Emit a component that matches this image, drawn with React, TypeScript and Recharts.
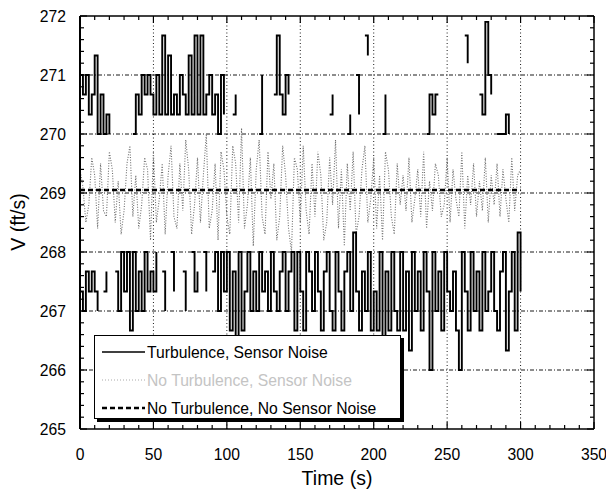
import { LineChart, Line, XAxis, YAxis, ReferenceLine } from 'recharts';

const n = null;

// sample times (s)
const time = [
  0, 2, 4, 6, 8, 10, 12, 14, 16, 18,
  20, 22, 24, 26, 28, 30, 32, 34, 36, 38,
  40, 42, 44, 46, 48, 50, 52, 54, 56, 58,
  60, 62, 64, 66, 68, 70, 72, 74, 76, 78,
  80, 82, 84, 86, 88, 90, 92, 94, 96, 98,
  100, 102, 104, 106, 108, 110, 112, 114, 116, 118,
  120, 122, 124, 126, 128, 130, 132, 134, 136, 138,
  140, 142, 144, 146, 148, 150, 152, 154, 156, 158,
  160, 162, 164, 166, 168, 170, 172, 174, 176, 178,
  180, 182, 184, 186, 188, 190, 192, 194, 196, 198,
  200, 202, 204, 206, 208, 210, 212, 214, 216, 218,
  220, 222, 224, 226, 228, 230, 232, 234, 236, 238,
  240, 242, 244, 246, 248, 250, 252, 254, 256, 258,
  260, 262, 264, 266, 268, 270, 272, 274, 276, 278,
  280, 282, 284, 286, 288, 290, 292, 294, 296, 298,
  300,
];

// turbulence + sensor noise, upper excursions (ft/s)
const turbNoiseHigh = [
  271.0, 270.67, 271.0, 270.33, 270.67, 271.33, 270.0, 270.67, 270.0, 270.33,
  270.0, n, n, n, n, n, n, n, 270.0, 270.67,
  270.33, 271.0, 270.67, 271.0, 270.67, 270.33, 271.0, 270.33, 271.67, 270.33,
  271.33, 270.33, 270.67, 270.33, 271.0, 270.67, 270.33, 271.33, 270.33, 271.67,
  270.33, 271.67, 270.33, 270.67, 271.0, 270.33, 270.67, 270.0, 271.0, 270.33,
  n, n, 270.33, 270.67, n, n, n, n, n, n,
  n, 270.0, 271.0, n, n, n, 270.67, 271.67, 270.67, 270.33,
  271.0, 270.67, n, n, n, n, n, n, n, n,
  n, n, n, n, n, 270.33, 270.67, n, n, n,
  n, 270.0, 270.33, n, 271.0, 270.33, n, 271.67, 271.33, n,
  n, n, n, 270.0, 270.67, n, n, n, n, n,
  n, n, n, n, n, n, n, n, 270.0, 270.67,
  270.33, 270.67, 270.67, n, n, n, n, n, n, n,
  n, 271.67, 271.2, n, n, n, 270.67, 270.33, 271.9, 271.0,
  270.67, n, 270.0, 270.0, 270.0, 270.33, 270.0, n, n, n,
  n,
];

// turbulence + sensor noise, lower excursions (ft/s)
const turbNoiseLow = [
  267.33, 267.0, 267.67, 267.33, 267.67, 267.33, 267.0, n, 267.33, 267.67,
  n, n, 267.67, 267.0, 268.0, 267.33, 268.0, 266.67, 268.0, 267.0,
  267.67, 267.0, 268.0, 267.33, 267.67, 267.33, 268.0, n, 267.67, 267.0,
  n, 268.0, 267.33, n, n, 267.67, 267.0, n, 268.0, 267.33,
  267.67, n, 268.0, 267.33, n, 267.67, 268.0, 267.0, 268.0, 267.33,
  268.0, 266.67, 267.67, 266.33, 268.0, 266.67, 267.33, 268.0, 267.0, 267.67,
  267.0, 268.0, 267.33, 267.67, 267.0, 268.0, 267.33, 267.0, 267.67, 268.0,
  267.0, 267.67, 268.0, 266.67, 268.0, 267.33, 266.67, 268.0, 267.67, 267.0,
  268.0, 267.33, 266.67, 267.67, 268.0, 267.0, 266.67, 268.0, 267.33, 266.67,
  267.67, 268.0, 267.0, 268.33, 267.33, 266.67, 267.67, 267.0, 268.0, 266.67,
  267.33, 266.67, 268.0, 266.33, 267.67, 266.67, 268.0, 267.0, 266.67, 268.0,
  266.67, 267.67, 266.33, 268.0, 267.0, 267.67, 266.67, 268.0, 267.33, 266.0,
  268.0, 267.0, 267.67, 266.67, 268.0, 267.33, 267.0, 267.67, 266.67, 266.0,
  268.0, 267.33, 266.67, 268.0, 267.0, 267.67, 266.67, 268.0, 267.0, 267.33,
  268.0, 267.0, 266.67, 267.67, 268.0, 266.33, 267.33, 268.0, 266.67, 268.33,
  267.33,
];

// no turbulence, sensor noise only (ft/s)
const noTurbNoise = [
  269.4, 269.1, 268.5, 268.8, 269.6, 269.3, 268.4, 269.5, 268.7, 268.6,
  269.7, 269.4, 268.5, 269.2, 268.3, 268.7, 269.5, 269.8, 268.6, 269.3,
  268.4, 268.8, 269.6, 269.4, 268.2, 269.7, 268.5, 268.9, 269.5, 268.3,
  269.3, 269.8, 268.6, 268.4, 269.5, 268.7, 269.9, 269.4, 268.3, 268.8,
  269.6, 268.5, 269.3, 270.0, 268.4, 268.7, 269.5, 268.2, 269.7, 269.4,
  268.6, 268.3, 269.8, 269.5, 268.5, 270.1, 268.4, 268.8, 269.6, 268.1,
  269.4, 269.9, 268.6, 268.3, 269.7, 268.9, 269.5, 268.2, 268.6, 269.8,
  269.3, 268.4, 268.0, 269.6, 269.4, 268.5, 269.8, 268.7, 268.3, 269.5,
  268.6, 269.7, 269.3, 268.2, 268.5, 269.6, 268.8, 269.9, 268.4, 269.4,
  268.1, 269.5, 268.7, 269.7, 268.3, 268.6, 269.4, 269.8, 268.5, 268.9,
  269.6, 268.4, 269.3, 268.2, 269.7, 269.4, 268.6, 268.3, 269.5, 268.8,
  269.3, 268.7, 269.6, 268.5, 268.9, 269.4, 268.6, 269.7, 268.4, 269.2,
  268.7, 269.5, 269.3, 268.6, 268.8, 269.6, 268.5, 269.4, 268.9, 268.6,
  269.7, 268.4, 269.3, 268.8, 269.5, 268.6, 269.2, 268.7, 269.6, 268.5,
  269.3, 268.8, 269.5, 268.6, 269.4, 268.9, 268.5, 269.6, 268.7, 269.3,
  269.4,
];

// no turbulence, no sensor noise
const cleanTime = [0, 300];
const cleanV = [269.05, 269.05];

const xTicks = [
  0, 10, 20, 30, 40, 50, 60, 70, 80, 90, 100, 110, 120, 130, 140, 150, 160, 170,
  180, 190, 200, 210, 220, 230, 240, 250, 260, 270, 280, 290, 300, 310, 320, 330, 340, 350,
];
const yTicks = [
  265, 265.2, 265.4, 265.6, 265.8, 266, 266.2, 266.4, 266.6, 266.8, 267, 267.2,
  267.4, 267.6, 267.8, 268, 268.2, 268.4, 268.6, 268.8, 269, 269.2, 269.4, 269.6,
  269.8, 270, 270.2, 270.4, 270.6, 270.8, 271, 271.2, 271.4, 271.6, 271.8, 272,
];
const xGrid = [50, 100, 150, 200, 250, 300];
const yGrid = [266, 267, 268, 269, 270, 271];

const data = time.map((t, i) => ({
  t,
  hi: turbNoiseHigh[i],
  lo: turbNoiseLow[i],
  sn: noTurbNoise[i],
}));
const cleanData = cleanTime.map((t, i) => ({ t, v: cleanV[i] }));

const PLOT_W = 514;
const PLOT_H = 413;
const FONT = '"Liberation Sans", Arial, sans-serif';

const XTick = (props: any) => {
  const { x, y, payload } = props;
  const major = payload.value % 50 === 0;
  const len = major ? 7 : 4;
  return (
    <g>
      <line x1={x} y1={y} x2={x} y2={y - len} stroke="#000" strokeWidth={1.2} />
      <line x1={x} y1={y - PLOT_H} x2={x} y2={y - PLOT_H + len} stroke="#000" strokeWidth={1.2} />
      {major && (
        <text x={x} y={y + 31} textAnchor="middle" fontSize={15.7} fontFamily={FONT} fill="#000">
          {payload.value}
        </text>
      )}
    </g>
  );
};

const YTick = (props: any) => {
  const { x, y, payload } = props;
  const major = Math.abs(payload.value - Math.round(payload.value)) < 1e-6;
  const len = major ? 7 : 4;
  return (
    <g>
      <line x1={x} y1={y} x2={x + len} y2={y} stroke="#000" strokeWidth={1.2} />
      <line x1={x + PLOT_W} y1={y} x2={x + PLOT_W - len} y2={y} stroke="#000" strokeWidth={1.2} />
      {major && (
        <text x={x - 14} y={y + 6} textAnchor="end" fontSize={15.7} fontFamily={FONT} fill="#000">
          {Math.round(payload.value)}
        </text>
      )}
    </g>
  );
};

export default function App() {
  return (
    <div style={{ position: 'absolute', left: 0, top: 0, width: 606, height: 492, background: '#fff' }}>
      <LineChart width={606} height={492} data={data} margin={{ top: 16, right: 12, bottom: 0, left: 0 }}>
        <XAxis
          dataKey="t"
          type="number"
          domain={[0, 350]}
          ticks={xTicks}
          interval={0}
          tickSize={0}
          tickMargin={0}
          tickLine={false}
          tick={XTick}
          height={63}
          axisLine={{ stroke: '#000', strokeWidth: 1.5 }}
          label={() => (
            <text x={337} y={485} textAnchor="middle" fontSize={19.5} fontFamily={FONT} fill="#000">
              Time (s)
            </text>
          )}
        />
        <YAxis
          type="number"
          domain={[265, 272]}
          ticks={yTicks}
          interval={0}
          tickSize={0}
          tickMargin={0}
          tickLine={false}
          tick={YTick}
          width={80}
          axisLine={{ stroke: '#000', strokeWidth: 2 }}
          label={() => (
            <text
              x={25}
              y={222}
              transform="rotate(-90 25 222)"
              textAnchor="middle"
              fontSize={19.5}
              fontFamily={FONT}
              fill="#000"
            >
              V (ft/s)
            </text>
          )}
        />
        {xGrid.map((v) => (
          <ReferenceLine key={`gx-${v}`} x={v} stroke="#000" strokeWidth={0.9} strokeDasharray="1 2.5" />
        ))}
        {yGrid.map((v) => (
          <ReferenceLine key={`gy-${v}`} y={v} stroke="#000" strokeWidth={0.9} strokeDasharray="4 2 1 2" />
        ))}
        <ReferenceLine y={272} stroke="#000" strokeWidth={1.5} />
        <ReferenceLine x={350} stroke="#000" strokeWidth={1.5} />
        <Line
          dataKey="sn"
          type="linear"
          stroke="#6e6e6e"
          strokeWidth={1.1}
          strokeDasharray="1 1.6"
          dot={false}
          isAnimationActive={false}
        />
        <Line
          dataKey="hi"
          type="stepAfter"
          stroke="#000"
          strokeWidth={1.9}
          dot={false}
          connectNulls={false}
          isAnimationActive={false}
        />
        <Line
          dataKey="lo"
          type="stepAfter"
          stroke="#000"
          strokeWidth={1.9}
          dot={false}
          connectNulls={false}
          isAnimationActive={false}
        />
        <Line
          data={cleanData}
          dataKey="v"
          type="linear"
          stroke="#000"
          strokeWidth={2.6}
          strokeDasharray="5 3"
          dot={false}
          isAnimationActive={false}
        />
      </LineChart>

      {/* legend box */}
      <div
        style={{
          position: 'absolute',
          left: 94,
          top: 335,
          width: 305,
          height: 82,
          border: '1px solid #000',
          boxShadow: '3px 3px 0 #000',
          background: '#fff',
        }}
      >
        <svg width={305} height={82} style={{ display: 'block' }}>
          <line x1={7} y1={16} x2={50} y2={16} stroke="#000" strokeWidth={1.5} />
          <text x={52} y={22} fontSize={15.7} fontFamily={FONT} fill="#000">
            Turbulence, Sensor Noise
          </text>
          <line x1={7} y1={44} x2={50} y2={44} stroke="#aaa" strokeWidth={1} strokeDasharray="1 2" />
          <text x={52} y={50} fontSize={15.7} fontFamily={FONT} fill="#c4c4c4">
            No Turbulence, Sensor Noise
          </text>
          <line x1={7} y1={72} x2={50} y2={72} stroke="#000" strokeWidth={2.6} strokeDasharray="5 3" />
          <text x={52} y={78} fontSize={15.7} fontFamily={FONT} fill="#000">
            No Turbulence, No Sensor Noise
          </text>
        </svg>
      </div>
    </div>
  );
}
